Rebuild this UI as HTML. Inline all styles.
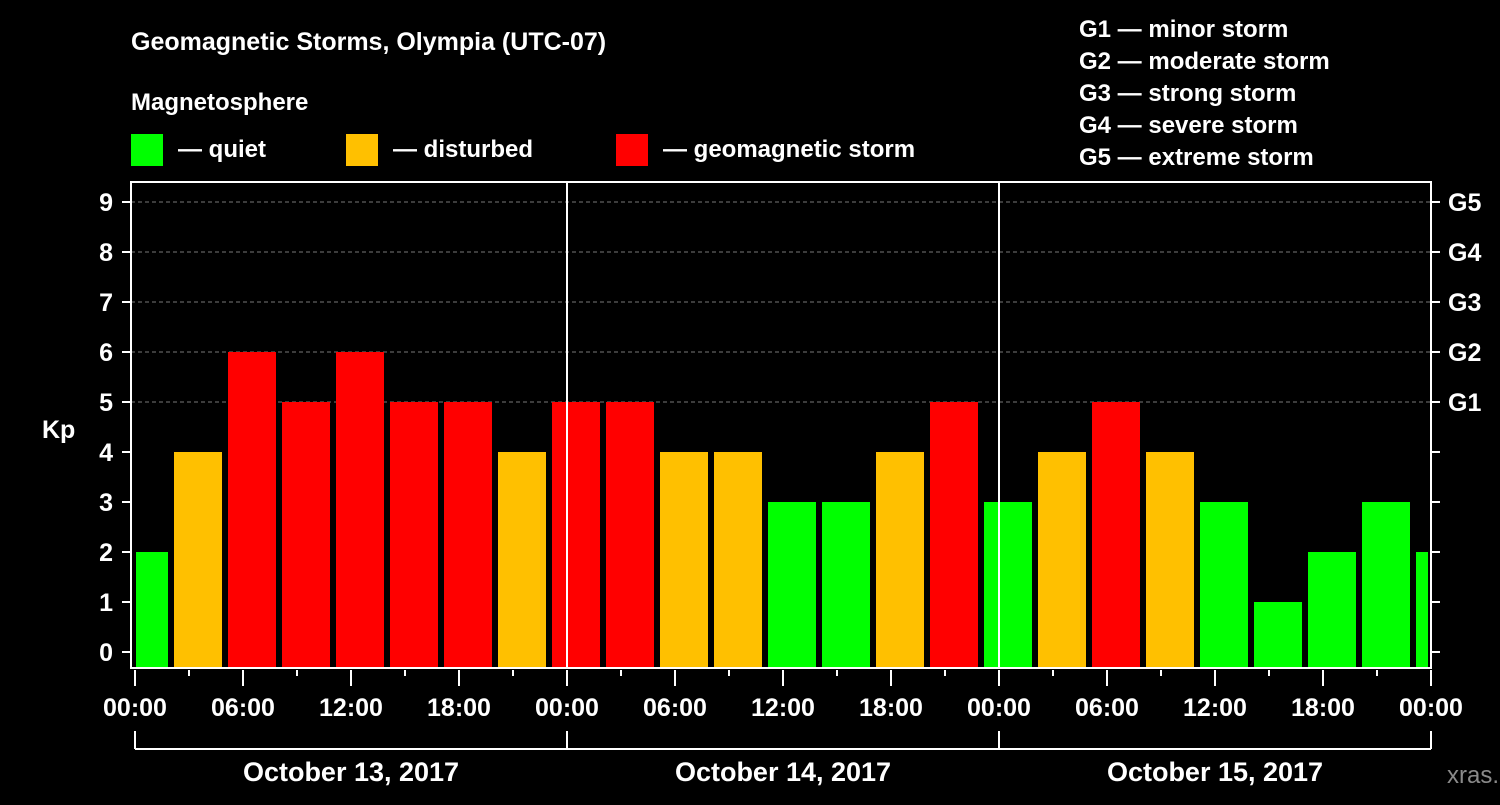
<!DOCTYPE html>
<html><head><meta charset="utf-8"><style>
body{margin:0;background:#000;width:1500px;height:800px;overflow:hidden}
svg text{font-family:"Liberation Sans",Arial,sans-serif;font-weight:bold;fill:#fff}
</style></head><body>
<svg id="chart" width="1500" height="800" xmlns="http://www.w3.org/2000/svg">
<rect width="1500" height="800" fill="#000"/>
<text x="131" y="50" font-size="25">Geomagnetic Storms, Olympia (UTC-07)</text>
<text x="131" y="110" font-size="24">Magnetosphere</text>
<g><rect x="131" y="134" width="32" height="32" fill="#00ff00"/><text x="178" y="157" font-size="24">— quiet</text></g>
<g><rect x="346" y="134" width="32" height="32" fill="#ffc000"/><text x="393" y="157" font-size="24">— disturbed</text></g>
<g><rect x="616" y="134" width="32" height="32" fill="#ff0000"/><text x="663" y="157" font-size="24">— geomagnetic storm</text></g>
<g font-size="24">
<text x="1079" y="37">G1 — minor storm</text><text x="1079" y="69">G2 — moderate storm</text><text x="1079" y="101">G3 — strong storm</text><text x="1079" y="133">G4 — severe storm</text><text x="1079" y="165">G5 — extreme storm</text></g>
<text x="42" y="438" font-size="25">Kp</text>
<text x="1447" y="783" font-size="24" fill="#888" style="fill:#8a8a8a;font-weight:normal">xras.ru</text>
<g id="grid"></g><g id="bars"></g><g id="axes"></g>
</svg>
<script>
const kpValues=[2,4,6,5,6,5,5,4,5,5,4,4,3,3,4,5,3,4,5,4,3,1,2,3,2];
const yTicks=[0,1,2,3,4,5,6,7,8,9];
const gLabels=["G1","G2","G3","G4","G5"];
const hourLabels=["00:00","06:00","12:00","18:00"];
const dayLabels=["October 13, 2017","October 14, 2017","October 15, 2017"];
const NS="http://www.w3.org/2000/svg";
const L=131,R=1431,T=182,B=668,X0=135,pxH=18;
const y=v=>652-50*v, x=h=>X0+h*pxH;
function mk(tag,a,p){const e=document.createElementNS(NS,tag);for(const k in a)e.setAttribute(k,a[k]);p.appendChild(e);return e;}
const grid=document.getElementById('grid'),bars=document.getElementById('bars'),axes=document.getElementById('axes');
[5,6,7,8,9].forEach(v=>{const l=mk('line',{x1:L,x2:R,y1:y(v),y2:y(v),stroke:'#777','stroke-dasharray':'4,3'},grid);

});
kpValues.forEach((v,i)=>{let x1=x(3*i)-15,x2=x1+48;x1=Math.max(x1,L+5);x2=Math.min(x2,R-3);
const c=v>=5?'#ff0000':v>=4?'#ffc000':'#00ff00';
const r=mk('rect',{x:x1,y:y(v),width:x2-x1,height:B-y(v),fill:c},bars);

});
mk('rect',{x:L,y:T,width:R-L,height:B-T,fill:'none',stroke:'#fff','stroke-width':2},axes);
[1,2].forEach(d=>mk('line',{x1:x(24*d),x2:x(24*d),y1:T,y2:B,stroke:'#fff','stroke-width':2},axes));
yTicks.forEach(v=>{mk('line',{x1:L-9,x2:L,y1:y(v),y2:y(v),stroke:'#fff','stroke-width':2},axes);
mk('line',{x1:R,x2:R+9,y1:y(v),y2:y(v),stroke:'#fff','stroke-width':2},axes);
const t=mk('text',{x:L-18,y:y(v)+9,'font-size':25,'text-anchor':'end'},axes);t.textContent=v;

});
gLabels.forEach((g,i)=>{const t=mk('text',{x:R+17,y:y(5+i)+9,'font-size':25},axes);t.textContent=g;

});
for(let h=0;h<=72;h+=3){const maj=h%6==0;mk('line',{x1:x(h),x2:x(h),y1:B+2,y2:B+(maj?18:8),stroke:'#fff','stroke-width':2},axes);
if(maj){const t=mk('text',{x:x(h),y:716,'font-size':25,'text-anchor':'middle'},axes);t.textContent=hourLabels[(h/6)%4];

}}
mk('line',{x1:x(0),x2:x(72),y1:749,y2:749,stroke:'#fff','stroke-width':2},axes);
for(let d=0;d<=3;d++)mk('line',{x1:x(24*d),x2:x(24*d),y1:731,y2:749,stroke:'#fff','stroke-width':2},axes);
dayLabels.forEach((s,d)=>{const t=mk('text',{x:x(24*d+12),y:781,'font-size':27,'text-anchor':'middle'},axes);t.textContent=s;

});
</script>
</body></html>
